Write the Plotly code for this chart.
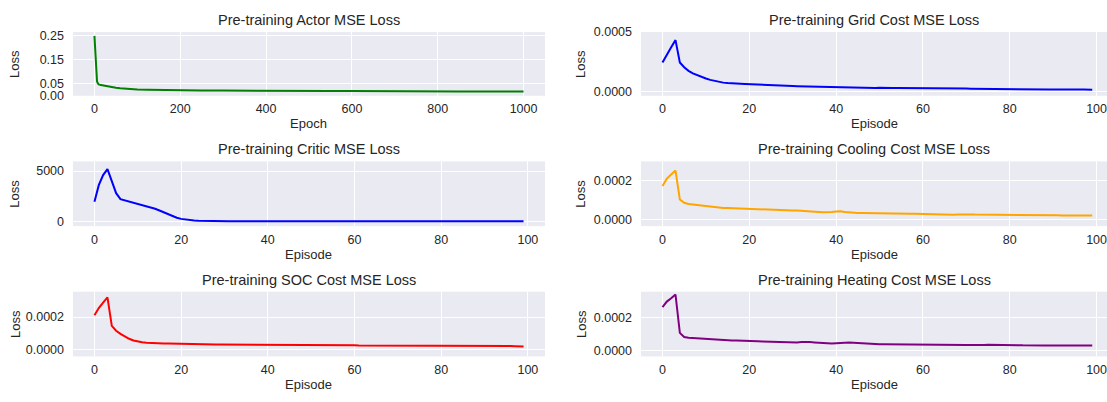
import plotly.graph_objects as go

# ---- data -------------------------------------------------------------
actor_epochs = [0, 3, 6, 8, 10, 15, 20, 30, 40, 50, 60, 70, 80, 90, 100, 125, 150,
                175, 200, 250, 300, 350, 400, 450, 500, 550, 600, 650, 700, 750,
                800, 850, 900, 950, 1000]
actor_loss = [0.250, 0.120, 0.058, 0.050, 0.046, 0.043, 0.041, 0.038, 0.035, 0.032,
              0.030, 0.028, 0.026, 0.025, 0.024, 0.023, 0.022, 0.021, 0.021, 0.020,
              0.020, 0.019, 0.019, 0.019, 0.018, 0.018, 0.018, 0.017, 0.017, 0.017,
              0.017, 0.016, 0.016, 0.016, 0.016]

episodes = list(range(100))

critic_loss = [1950, 3600, 4600, 5200, 4000, 2800, 2200, 2080, 1990, 1890,
               1780, 1670, 1550, 1410, 1250, 1070, 880, 690, 500, 350,
               240, 160, 105, 70, 48, 34, 26, 20, 16, 13,
               11, 10, 9, 9, 8, 8, 8, 7, 7, 7,
               7, 6, 6, 6, 6, 6, 6, 5, 5, 5,
               5, 5, 5, 5, 5, 5, 4, 4, 4, 4,
               4, 4, 4, 4, 4, 4, 4, 4, 4, 4,
               4, 3, 3, 3, 3, 3, 3, 3, 3, 3,
               3, 3, 3, 3, 3, 3, 3, 3, 3, 3,
               3, 3, 3, 3, 3, 3, 3, 3, 3, 3]

grid_loss = [2.46e-4, 3.13e-4, 3.74e-4, 4.33e-4, 2.46e-4, 2.06e-4, 1.76e-4, 1.55e-4, 1.39e-4, 1.24e-4,
             1.12e-4, 1.01e-4, 9.2e-5, 8.4e-5, 7.8e-5, 7.4e-5, 7.0e-5, 6.9e-5, 6.8e-5, 6.6e-5,
             6.4e-5, 6.2e-5, 5.9e-5, 5.7e-5, 5.5e-5, 5.4e-5, 5.4e-5, 5.3e-5, 5.2e-5, 5.0e-5,
             4.9e-5, 4.8e-5, 4.7e-5, 4.7e-5, 4.6e-5, 4.6e-5, 4.5e-5, 4.4e-5, 4.2e-5, 4.1e-5,
             4.0e-5, 3.9e-5, 3.8e-5, 3.8e-5, 3.7e-5, 3.6e-5, 3.6e-5, 3.5e-5, 3.4e-5, 3.4e-5,
             3.6e-5, 3.7e-5, 3.5e-5, 3.4e-5, 3.3e-5, 3.3e-5, 3.2e-5, 3.4e-5, 3.3e-5, 3.1e-5,
             3.0e-5, 3.0e-5, 3.1e-5, 3.2e-5, 3.1e-5, 2.9e-5, 2.8e-5, 2.8e-5, 2.9e-5, 2.9e-5,
             2.8e-5, 2.7e-5, 2.7e-5, 2.6e-5, 2.4e-5, 2.4e-5, 2.5e-5, 2.5e-5, 2.6e-5, 2.6e-5,
             2.5e-5, 2.4e-5, 2.3e-5, 2.3e-5, 2.4e-5, 2.3e-5, 2.2e-5, 2.2e-5, 2.1e-5, 2.1e-5,
             2.0e-5, 2.1e-5, 2.1e-5, 2.1e-5, 2.0e-5, 2.0e-5, 2.0e-5, 2.0e-5, 1.9e-5, 1.9e-5]

cooling_loss = [1.74e-4, 2.12e-4, 2.34e-4, 2.54e-4, 1.03e-4, 8.6e-5, 8.0e-5, 7.7e-5, 7.5e-5, 7.3e-5,
                7.0e-5, 6.7e-5, 6.3e-5, 6.0e-5, 5.9e-5, 5.9e-5, 5.8e-5, 5.6e-5, 5.5e-5, 5.3e-5,
                5.2e-5, 5.1e-5, 5.0e-5, 4.9e-5, 4.8e-5, 4.7e-5, 4.6e-5, 4.6e-5, 4.5e-5, 4.5e-5,
                4.5e-5, 4.5e-5, 4.4e-5, 4.4e-5, 4.2e-5, 4.0e-5, 3.8e-5, 3.6e-5, 3.6e-5, 3.8e-5,
                4.0e-5, 4.1e-5, 3.8e-5, 3.5e-5, 3.3e-5, 3.2e-5, 3.2e-5, 3.2e-5, 3.2e-5, 3.2e-5,
                3.2e-5, 3.2e-5, 3.1e-5, 3.2e-5, 3.2e-5, 3.1e-5, 3.0e-5, 2.9e-5, 2.8e-5, 2.7e-5,
                2.6e-5, 2.6e-5, 2.7e-5, 2.6e-5, 2.5e-5, 2.5e-5, 2.4e-5, 2.3e-5, 2.4e-5, 2.5e-5,
                2.6e-5, 2.5e-5, 2.4e-5, 2.4e-5, 2.3e-5, 2.3e-5, 2.3e-5, 2.3e-5, 2.2e-5, 2.2e-5,
                2.1e-5, 2.1e-5, 2.1e-5, 2.1e-5, 2.1e-5, 2.1e-5, 2.1e-5, 2.1e-5, 2.1e-5, 2.1e-5,
                2.1e-5, 2.1e-5, 2.0e-5, 2.0e-5, 1.9e-5, 1.9e-5, 1.9e-5, 2.0e-5, 2.0e-5, 2.0e-5]

soc_loss = [2.12e-4, 2.56e-4, 2.90e-4, 3.22e-4, 1.46e-4, 1.16e-4, 9.6e-5, 8.0e-5, 6.6e-5, 5.5e-5,
            4.8e-5, 4.4e-5, 4.2e-5, 4.0e-5, 3.9e-5, 3.8e-5, 3.7e-5, 3.7e-5, 3.6e-5, 3.6e-5,
            3.6e-5, 3.5e-5, 3.4e-5, 3.3e-5, 3.2e-5, 3.2e-5, 3.2e-5, 3.1e-5, 3.0e-5, 3.0e-5,
            3.0e-5, 2.9e-5, 2.9e-5, 2.9e-5, 2.9e-5, 2.8e-5, 2.8e-5, 2.8e-5, 2.8e-5, 2.8e-5,
            2.8e-5, 2.7e-5, 2.7e-5, 2.7e-5, 2.7e-5, 2.7e-5, 2.7e-5, 2.6e-5, 2.7e-5, 2.7e-5,
            2.8e-5, 2.8e-5, 2.8e-5, 2.7e-5, 2.6e-5, 2.6e-5, 2.6e-5, 2.7e-5, 2.8e-5, 2.7e-5,
            2.6e-5, 2.5e-5, 2.5e-5, 2.5e-5, 2.5e-5, 2.5e-5, 2.4e-5, 2.4e-5, 2.4e-5, 2.4e-5,
            2.4e-5, 2.3e-5, 2.3e-5, 2.3e-5, 2.3e-5, 2.3e-5, 2.3e-5, 2.3e-5, 2.3e-5, 2.3e-5,
            2.4e-5, 2.3e-5, 2.3e-5, 2.2e-5, 2.2e-5, 2.2e-5, 2.2e-5, 2.2e-5, 2.2e-5, 2.2e-5,
            2.1e-5, 2.1e-5, 2.1e-5, 2.2e-5, 2.2e-5, 2.2e-5, 2.1e-5, 2.0e-5, 1.9e-5, 1.8e-5]

heating_loss = [2.65e-4, 2.98e-4, 3.18e-4, 3.41e-4, 1.08e-4, 8.3e-5, 7.8e-5, 7.6e-5, 7.4e-5, 7.2e-5,
                7.0e-5, 6.8e-5, 6.7e-5, 6.6e-5, 6.5e-5, 6.4e-5, 6.2e-5, 6.1e-5, 6.1e-5, 6.1e-5,
                6.0e-5, 5.9e-5, 5.7e-5, 5.6e-5, 5.5e-5, 5.4e-5, 5.3e-5, 5.3e-5, 5.2e-5, 5.1e-5,
                5.0e-5, 5.0e-5, 5.2e-5, 5.3e-5, 5.2e-5, 5.0e-5, 4.8e-5, 4.7e-5, 4.5e-5, 4.4e-5,
                4.5e-5, 4.7e-5, 4.9e-5, 4.9e-5, 4.8e-5, 4.6e-5, 4.3e-5, 4.2e-5, 4.1e-5, 4.0e-5,
                3.9e-5, 3.9e-5, 3.9e-5, 3.8e-5, 3.8e-5, 3.9e-5, 3.8e-5, 3.8e-5, 3.9e-5, 3.9e-5,
                3.8e-5, 3.6e-5, 3.5e-5, 3.5e-5, 3.5e-5, 3.5e-5, 3.5e-5, 3.5e-5, 3.6e-5, 3.6e-5,
                3.5e-5, 3.4e-5, 3.3e-5, 3.4e-5, 3.5e-5, 3.6e-5, 3.6e-5, 3.7e-5, 3.6e-5, 3.5e-5,
                3.5e-5, 3.4e-5, 3.3e-5, 3.2e-5, 3.1e-5, 3.1e-5, 3.1e-5, 3.1e-5, 3.1e-5, 3.1e-5,
                3.1e-5, 3.0e-5, 3.0e-5, 2.9e-5, 2.9e-5, 2.9e-5, 3.0e-5, 3.0e-5, 3.1e-5, 3.1e-5]

# ---- layout -------------------------------------------------------------
W, H = 1107, 402
FONT = "Liberation Sans, Arial, sans-serif"
TEXT = "#262626"
BG = "#EAEAF2"

col_px = [(73, 545), (641, 1107)]
row_px = [(26, 92), (160, 227), (295, 362)]

panels = [
    # title, x, y, color, xlabel, xrange, xticks, yrange, yticks, yfmt
    ("Pre-training Actor MSE Loss", actor_epochs, actor_loss, "#008000", "Epoch",
     [-50, 1050], [0, 200, 400, 600, 800, 1000], [-0.002, 0.266], [0, 0.05, 0.15, 0.25], ".2f"),
    ("Pre-training Grid Cost MSE Loss", episodes, grid_loss, "#0000FF", "Episode",
     [-4.95, 102.4], [0, 20, 40, 60, 80, 100], [-0.000032, 0.0005], [0, 0.0005], ".4f"),
    ("Pre-training Critic MSE Loss", episodes, critic_loss, "#0000FF", "Episode",
     [-4.95, 103.95], [0, 20, 40, 60, 80, 100], [-480, 5960], [0, 5000], "d"),
    ("Pre-training Cooling Cost MSE Loss", episodes, cooling_loss, "#FFA500", "Episode",
     [-4.95, 102.4], [0, 20, 40, 60, 80, 100], [-0.000036, 0.000302], [0, 0.0002], ".4f"),
    ("Pre-training SOC Cost MSE Loss", episodes, soc_loss, "#FF0000", "Episode",
     [-4.95, 103.95], [0, 20, 40, 60, 80, 100], [-0.000043, 0.000357], [0, 0.0002], ".4f"),
    ("Pre-training Heating Cost MSE Loss", episodes, heating_loss, "#800080", "Episode",
     [-4.95, 102.4], [0, 20, 40, 60, 80, 100], [-0.000035, 0.000358], [0, 0.0002], ".4f"),
]

fig = go.Figure()
annotations = []
layout_axes = {}

for i, (title, xs, ys, color, xlabel, xr, xt, yr, yt, yfmt) in enumerate(panels):
    n = i + 1
    r, c = divmod(i, 2)
    x0, x1 = col_px[c][0] / W, min(col_px[c][1] / W, 1.0)
    y0, y1 = 1 - row_px[r][1] / H, 1 - row_px[r][0] / H
    xc = (x0 + x1) / 2
    sfx = "" if n == 1 else str(n)

    fig.add_trace(go.Scatter(x=xs, y=ys, mode="lines",
                             line=dict(color=color, width=2),
                             xaxis="x" + sfx, yaxis="y" + sfx,
                             showlegend=False, hoverinfo="skip"))

    layout_axes["xaxis" + sfx] = dict(
        domain=[x0, x1], anchor="y" + sfx, range=xr, tickmode="array", tickvals=xt,
        showgrid=True, gridcolor="white", gridwidth=1.2, zeroline=False,
        showline=False, ticks="", ticklabelstandoff=4, ticklabeloverflow="allow",
        tickfont=dict(family=FONT, size=12.5, color=TEXT), fixedrange=True)
    layout_axes["yaxis" + sfx] = dict(
        domain=[y0, y1], anchor="x" + sfx, range=yr, tickmode="array", tickvals=yt,
        tickformat=yfmt,
        showgrid=True, gridcolor="white", gridwidth=1.2, zeroline=False,
        showline=False, ticks="", ticklabelstandoff=8,
        tickfont=dict(family=FONT, size=12.5, color=TEXT), fixedrange=True)

    # panel title
    annotations.append(dict(text=title, xref="paper", yref="paper",
                            x=xc, y=y1, xanchor="center", yanchor="bottom", yshift=2,
                            showarrow=False, font=dict(family=FONT, size=14.5, color=TEXT)))
    # x-axis label
    annotations.append(dict(text=xlabel, xref="paper", yref="paper",
                            x=xc, y=y0, xanchor="center", yanchor="middle", yshift=-28,
                            showarrow=False, font=dict(family=FONT, size=13, color=TEXT)))
    # y-axis label
    annotations.append(dict(text="Loss", xref="paper", yref="paper",
                            x=x0, y=(y0 + y1) / 2, xanchor="center", yanchor="middle",
                            xshift=-58 if c == 0 else -60, textangle=-90,
                            showarrow=False, font=dict(family=FONT, size=13, color=TEXT)))

fig.update_layout(
    width=W, height=H, margin=dict(l=0, r=0, t=0, b=0),
    paper_bgcolor="white", plot_bgcolor=BG,
    annotations=annotations, **layout_axes)

fig.write_html("out.html", config={"displayModeBar": False})
